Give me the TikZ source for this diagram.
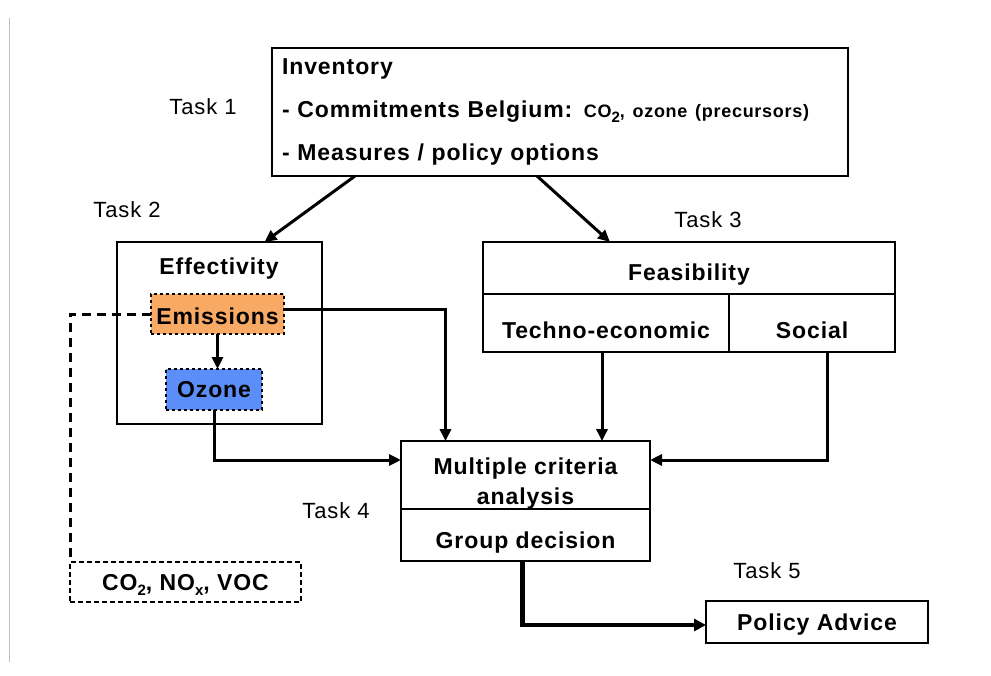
\documentclass[tikz,border=0pt]{standalone}
\usepackage{fontspec}
\setmainfont{Liberation Sans}
\newfontfamily\diagfont[LetterSpace=4]{Liberation Sans}
\usetikzlibrary{positioning,arrows.meta,calc}
\definecolor{emisorange}{HTML}{F8A963}
\definecolor{ozoneblue}{HTML}{5B8EF8}
\newcommand\lowsub[1]{\raisebox{-5pt}{\fontsize{15}{15}\selectfont #1}}

\begin{document}
\begin{tikzpicture}[x=1pt, y=-1pt,
  box/.style={draw, line width=1.6pt, inner sep=0pt, outer sep=0pt, align=center, font=\diagfont\bfseries\fontsize{23}{30}\selectfont},
  tdown/.style={text height=#1, text depth=0pt},
  task/.style={inner sep=0pt, text height=16pt, text depth=0pt, font=\diagfont\fontsize{22}{26}\selectfont},
  dotbox/.style={box, line width=2.4pt, dash pattern=on 3pt off 3pt},
  arr/.style={-{Triangle[length=12pt, width=11pt]}, line width=3pt},
  bigarr/.style={-{Triangle[length=12pt, width=12pt]}, line width=4.5pt},
  dashln/.style={line width=3pt, dash pattern=on 9pt off 6pt}]
\useasboundingbox (0,0) rectangle (991,675);
\draw[gray!50, line width=1pt] (9,18) -- (9,662);
\node[box, minimum width=576pt, minimum height=128pt, text width=556pt, align=left, font=\diagfont\bfseries\fontsize{23}{43}\selectfont] (inv) at (560,112) {Inventory\\- Commitments Belgium: {\fontsize{18}{43}\selectfont CO\lowsub{2}, ozone (precursors)}\\- Measures / policy options};
\node[box, minimum width=205pt, minimum height=182pt] (eff) at (219.5,333) {};
\node[box, draw=none, tdown=16pt] (efftit) at (219,266) {Effectivity};
\node[dotbox, fill=emisorange, minimum width=133pt, minimum height=40pt, tdown=20pt] (emis) at (217.5,314) {Emissions};
\node[dotbox, fill=ozoneblue, minimum width=96pt, minimum height=41pt, tdown=16pt, below=35pt of emis, xshift=-3.5pt] (ozone) {Ozone};
\node[box, minimum width=412pt, minimum height=52pt, tdown=24pt] (feas) at (689,268) {Feasibility};
\node[box, minimum width=246pt, minimum height=58pt, tdown=30pt, below right=0pt and 0pt of feas.south west] (tech) {Techno-economic};
\node[box, minimum width=166pt, minimum height=58pt, tdown=30pt, right=0pt of tech] (soc) {Social};
\node[box, minimum width=249pt, minimum height=66pt] (mca) at (525.5,475) {\rule{0pt}{33pt}Multiple criteria\\analysis};
\node[box, minimum width=249pt, minimum height=52pt, tdown=28pt, below=0pt of mca] (grp) {Group decision};
\node[box, minimum width=222pt, minimum height=42pt, tdown=16pt] (adv) at (817,622) {Policy Advice};
\node[box, line width=2.6pt, dash pattern=on 5pt off 3pt, minimum width=231pt, minimum height=40pt, tdown=16pt] (gas) at (185.5,582) {CO\lowsub{2}, NO\lowsub{x}, VOC};
\node[task] (t1) at (203,106) {Task 1};
\node[task] (t2) at (127,209) {Task 2};
\node[task] (t3) at (708,219) {Task 3};
\node[task] (t4) at (336,510) {Task 4};
\node[task] (t5) at (767,570) {Task 5};
\draw[arr] ([xshift=-205pt]inv.south) -- ([xshift=45pt]eff.north);
\draw[arr] ([xshift=-23pt]inv.south) -- ([xshift=-79pt]feas.north);
\draw[arr] (emis.south) -- (emis.south |- ozone.north);
\draw[arr] ([yshift=5pt]emis.east) -| ([xshift=-80pt]mca.north);
\draw[arr] (ozone.south) |- ([yshift=15pt]mca.west);
\draw[arr] ([xshift=-4pt]tech.south) -- ([xshift=-4pt]tech.south |- mca.north);
\draw[arr] ([xshift=15pt]soc.south) |- ([yshift=15pt]mca.east);
\draw[bigarr] ([xshift=-3pt]grp.south) |- ([yshift=-3pt]adv.west);
\draw[dashln] (emis.west) -| (gas.north west);
\end{tikzpicture}
\end{document}
